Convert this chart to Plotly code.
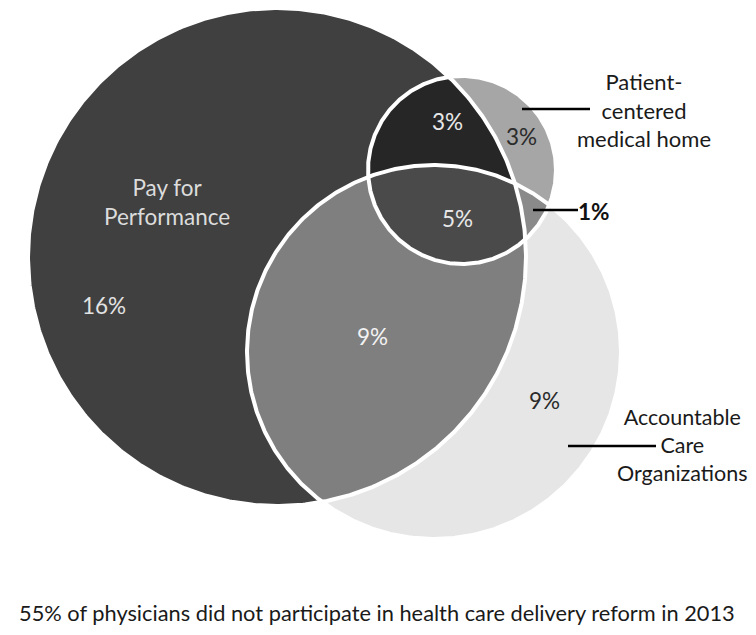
import numpy as np
import plotly.graph_objects as go

# ---------------- data ----------------
set_names = ["Pay for<br>Performance", "Patient-<br>centered<br>medical home", "Accountable<br>Care<br>Organizations"]
region_keys = ["P", "PM", "M", "PA", "PMA", "MA", "A"]          # P=P4P, M=PCMH, A=ACO
region_pct = [16, 3, 3, 9, 5, 1, 9]
footnote = "55% of physicians did not participate in health care delivery reform in 2013"

# ---------------- geometry / style (pixel space) ----------------
W, H = 756, 635
OFF = 8   # default page body margin
circles = {"P": (277, 257, 249), "M": (462, 170, 94), "A": (434, 352, 187)}
region_color = {"P": "#404040", "PM": "#262626", "M": "#a6a6a6", "PA": "#7f7f7f",
                "PMA": "#4a4a4a", "MA": "#8a8a8a", "A": "#e6e6e6"}
draw_order = [("A",), ("M",), ("M", "A"), ("P",), ("P", "M"), ("P", "A"), ("P", "M", "A")]
order_key = {("A",): "A", ("M",): "M", ("M", "A"): "MA", ("P",): "P",
             ("P", "M"): "PM", ("P", "A"): "PA", ("P", "M", "A"): "PMA"}
label_pos = {"P": (104, 305), "PM": (447, 121), "M": (521, 136), "PA": (372, 336),
             "PMA": (457, 218), "MA": (594, 211), "A": (544, 400)}
label_color = {"P": "#e2e2e2", "PM": "#e8e8e8", "M": "#2b2b2b", "PA": "#f2f2f2",
               "PMA": "#e8e8e8", "MA": "#111111", "A": "#2b2b2b"}


def circle_pts(c, n=720):
    cx, cy, r = c
    t = np.linspace(0, 2 * np.pi, n, endpoint=False)
    return cx + r * np.cos(t), cy + r * np.sin(t)


def intersection_polygon(keys):
    xs, ys = [], []
    for k in keys:
        x, y = circle_pts(circles[k])
        mask = np.ones_like(x, dtype=bool)
        for o in keys:
            if o == k:
                continue
            ox, oy, orr = circles[o]
            mask &= (x - ox) ** 2 + (y - oy) ** 2 <= orr ** 2 + 1e-6
        xs.append(x[mask]); ys.append(y[mask])
    x = np.concatenate(xs); y = np.concatenate(ys)
    mx, my = x.mean(), y.mean()
    idx = np.argsort(np.arctan2(y - my, x - mx))
    x, y = x[idx], y[idx]
    return np.append(x, x[0]), np.append(y, y[0])


fig = go.Figure()
for keys in draw_order:
    x, y = intersection_polygon(keys)
    fig.add_trace(go.Scatter(x=x, y=y, mode="lines", fill="toself",
                             fillcolor=region_color[order_key[keys]],
                             line=dict(width=0), hoverinfo="skip", showlegend=False))

for k in ["P", "M", "A"]:
    x, y = circle_pts(circles[k])
    fig.add_trace(go.Scatter(x=np.append(x, x[0]), y=np.append(y, y[0]), mode="lines",
                             line=dict(color="white", width=4), hoverinfo="skip", showlegend=False))

FONT = "Lato"
FS = 22.5

for key, pct in zip(region_keys, region_pct):
    x, y = label_pos[key]
    txt = f"<b>{pct}%</b>" if key == "MA" else f"{pct}%"
    fig.add_annotation(x=x, y=y, text=txt, showarrow=False, xanchor="center", yanchor="middle",
                       font=dict(family=FONT, size=FS, color=label_color[key]))

set_pos = [(167, 202, "#dcdcdc", 22.5), (644, 110, "#1a1a1a", 22), (682, 445, "#1a1a1a", 21.5)]
for name, (x, y, col, fs) in zip(set_names, set_pos):
    fig.add_annotation(x=x, y=y, text=name, showarrow=False, xanchor="center", yanchor="middle",
                       font=dict(family=FONT, size=fs, color=col))

for (x0, y0, x1, y1) in [(522, 109, 590, 109), (533, 210, 578, 210), (568, 446, 656, 446)]:
    fig.add_shape(type="line", x0=x0, y0=y0, x1=x1, y1=y1, line=dict(color="black", width=2.5))

fig.add_annotation(x=377, y=612, text=footnote, showarrow=False, xanchor="center", yanchor="middle",
                   font=dict(family=FONT, size=21.8, color="#1a1a1a"))

fig.update_layout(width=W - OFF, height=H - OFF, margin=dict(l=0, r=0, t=0, b=0),
                  paper_bgcolor="white", plot_bgcolor="white",
                  xaxis=dict(range=[OFF, W], visible=False, fixedrange=True),
                  yaxis=dict(range=[H, OFF], visible=False, fixedrange=True))
fig.write_html("out.html")
